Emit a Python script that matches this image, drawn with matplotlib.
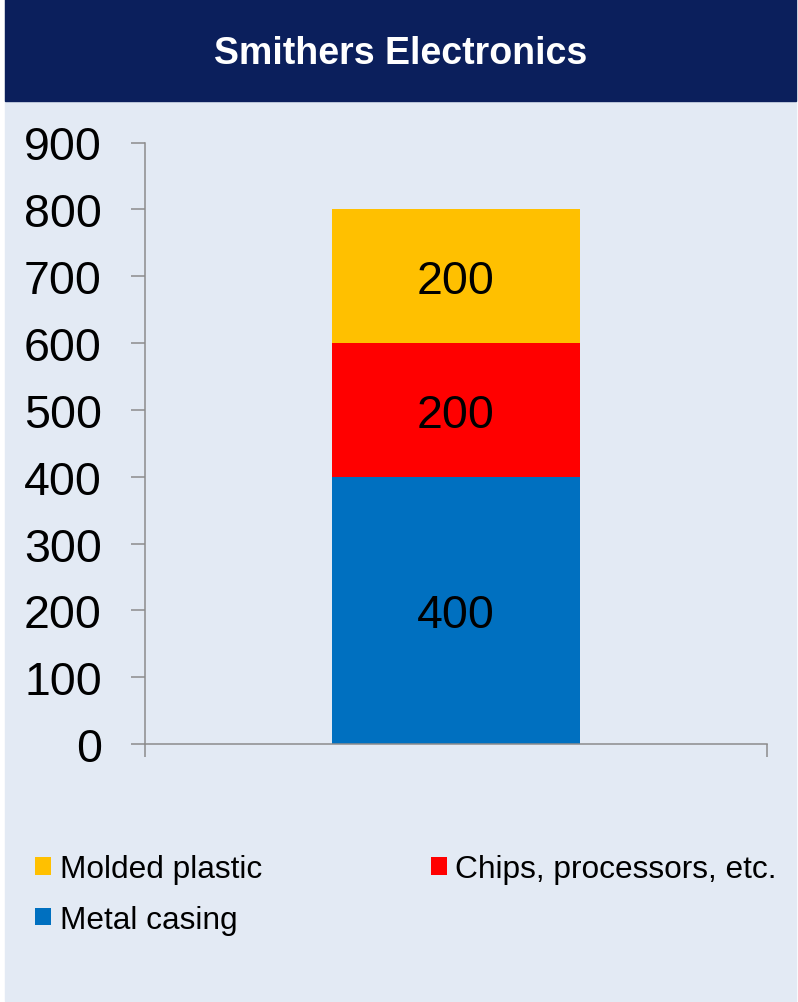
import matplotlib
matplotlib.use('Agg')
import matplotlib.pyplot as plt
import matplotlib.patches as mpatches

plt.rcParams['font.family'] = ['Liberation Sans', 'DejaVu Sans']

# --- Data ---
TITLE      = 'Smithers Electronics'
segments   = ['Metal casing', 'Chips, processors, etc.', 'Molded plastic']
values     = [400, 200, 200]
y_ticks    = [0, 100, 200, 300, 400, 500, 600, 700, 800, 900]

# --- Colours ---
COLOR_NAVY  = '#0B1F5C'
COLOR_PANEL = '#E3EAF4'
COLOR_AXIS  = '#8C8C8C'
seg_colors  = ['#0070C0', '#FF0000', '#FFC000']

W, H = 798, 1003
fig = plt.figure(figsize=(W / 100, H / 100), dpi=100)
fig.patch.set_facecolor('white')

# panel background + title band (behind the axes)
fig.patches.append(mpatches.Rectangle((5 / W, 1 - 1002 / H), 791 / W, 1002 / H,
                                      transform=fig.transFigure, color=COLOR_PANEL, zorder=-2))
fig.patches.append(mpatches.Rectangle((5 / W, 1 - 102 / H), 791 / W, 102 / H,
                                      transform=fig.transFigure, color=COLOR_NAVY, zorder=-1))
fig.text(401 / W, 1 - 54 / H, TITLE, ha='center', va='center',
         fontsize=27, fontweight='bold', color='white')

ax = fig.add_axes([145 / W, 1 - 745 / H, 622 / W, 601.5 / H])
ax.set_facecolor('none')

bottom = 0
for name, val, col in zip(segments, values, seg_colors):
    ax.bar(0, val, width=0.4, bottom=bottom, color=col, label=name, zorder=2)
    ax.text(0, bottom + val / 2, f'{val}', ha='center', va='center_baseline',
            fontsize=33.5, color='black', zorder=3)
    bottom += val

ax.set_xlim(-0.5, 0.5)
ax.set_ylim(0, 900)
ax.set_yticks(y_ticks)
ax.set_xticks([-0.5, 0.5])
ax.set_xticklabels([])
ax.tick_params(axis='y', length=10, width=1.1, color=COLOR_AXIS, labelsize=33.5, pad=21)
ax.tick_params(axis='x', length=9.5, width=1.1, color=COLOR_AXIS)

for side in ['top', 'right']:
    ax.spines[side].set_visible(False)
for side in ['left', 'bottom']:
    ax.spines[side].set_color(COLOR_AXIS)
    ax.spines[side].set_linewidth(1.1)

# --- Legend ---
h, l = ax.get_legend_handles_labels()
order = [2, 0, 1]   # Molded plastic, Metal casing | Chips, processors, etc.
leg = fig.legend([h[i] for i in order], [l[i] for i in order],
                 ncol=2, loc='upper left', bbox_to_anchor=(35 / W, 1 - 855 / H),
                 frameon=False, fontsize=22.8, borderaxespad=0, borderpad=0,
                 handlelength=0.5, handleheight=0.48, handletextpad=0.28,
                 columnspacing=5.33, labelspacing=0.66)

fig.savefig('out.png', dpi=100, facecolor='white')
